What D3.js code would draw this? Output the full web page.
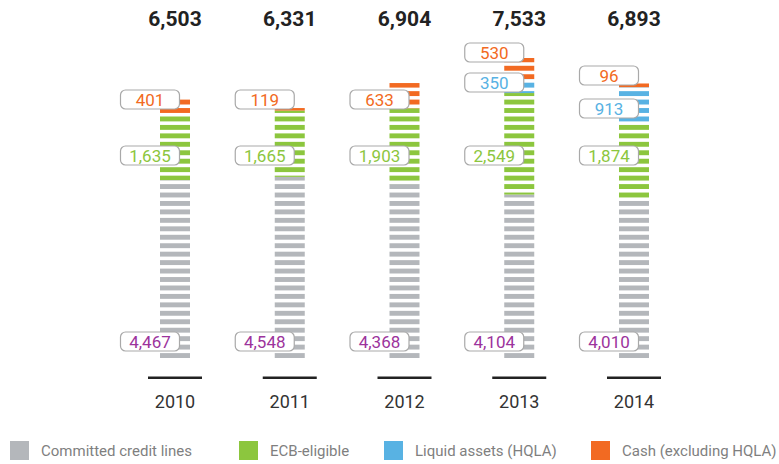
<!DOCTYPE html>
<html>
<head>
<meta charset="utf-8">
<script src="https://cdn.jsdelivr.net/npm/d3@7"></script>
<style>
  body { margin: 0; background: #fff; }
  svg { display: block; font-family: Roboto, "Noto Sans", sans-serif; }
</style>
</head>
<body>
<div id="container"></div>
<script>
// data
var years = ["2010", "2011", "2012", "2013", "2014"];
var totals = [6503, 6331, 6904, 7533, 6893];
var creditLines = [4467, 4548, 4368, 4104, 4010];
var ecbEligible = [1635, 1665, 1903, 2549, 1874];
var liquidAssets = [0, 0, 0, 350, 913];
var cash = [401, 119, 633, 530, 96];

var seriesNames = ["Committed credit lines", "ECB-eligible", "Liquid assets (HQLA)", "Cash (excluding HQLA)"];
var seriesKeys = ["credit", "ecb", "hqla", "cash"];
var colors = ["#b4b7bb", "#8cc63e", "#58b2e3", "#f26a22"];
var labelColors = ["#9c339c", "#8cc63e", "#58b2e3", "#f26a22"];

// where each value box sits (pixel centre), per series
var labelY = {
  credit: [341, 341, 341, 341, 341],
  ecb: [155, 155, 155, 155, 155],
  hqla: [null, null, null, 82, 108],
  cash: [99, 99, 99, 52, 75]
};

var svgWidth = 779;
var svgHeight = 464;
var base = 358;

var svg = d3.select("#container")
  .append("svg")
  .attr("width", svgWidth)
  .attr("height", svgHeight);

var table = years.map(function(y, i) {
  return {
    year: y,
    credit: creditLines[i],
    ecb: ecbEligible[i],
    hqla: liquidAssets[i],
    cash: cash[i]
  };
});

var stack = d3.stack().keys(seriesKeys);
var stacked = stack(table);

var x = d3.scalePoint()
  .domain(years)
  .range([175, 634]);

var y = d3.scaleLinear()
  .domain([0, d3.max(totals)])
  .range([base, 58]);

var barW = 30;

// horizontal stripe mask, anchored on the baseline
var mask = svg.append("defs").append("mask")
  .attr("id", "stripes")
  .attr("maskUnits", "userSpaceOnUse")
  .attr("x", 0).attr("y", 0)
  .attr("width", svgWidth).attr("height", svgHeight);

var period = 8.45, stripe = 4.9;
for (var k = 0; k < 45; k++) {
  mask.append("rect")
    .attr("x", 0)
    .attr("y", base - stripe - k * period)
    .attr("width", svgWidth)
    .attr("height", stripe)
    .attr("fill", "#fff");
}

var bars = svg.append("g").attr("mask", "url(#stripes)");

bars.selectAll("g")
  .data(stacked)
  .enter()
  .append("g")
  .attr("fill", function(d, i) { return colors[i]; })
  .selectAll("rect")
  .data(function(d) { return d; })
  .enter()
  .append("rect")
  .attr("x", function(d) { return x(d.data.year) - barW / 2; })
  .attr("y", function(d) { return y(d[1]); })
  .attr("width", barW)
  .attr("height", function(d) { return y(d[0]) - y(d[1]); });

// value boxes
var fmt = d3.format(",");
stacked.forEach(function(s, si) {
  s.forEach(function(d, i) {
    var v = d.data[s.key];
    if (!v) return;
    var cx = x(d.data.year);
    var cy = labelY[s.key][i];
    var g = svg.append("g").attr("transform", "translate(" + (cx - 55) + "," + (cy - 9.5) + ")");
    g.append("rect")
      .attr("x", 0.5).attr("y", 0.5)
      .attr("width", 59).attr("height", 19)
      .attr("rx", 5)
      .attr("fill", "#fff")
      .attr("stroke", "#a9a9a9")
      .attr("stroke-width", 1.2);
    g.append("text")
      .attr("x", 30)
      .attr("y", 16)
      .attr("text-anchor", "middle")
      .style("font-size", "17px")
      .attr("fill", labelColors[si])
      .text(fmt(v));
  });
});

// totals on top
svg.selectAll(".total")
  .data(years)
  .enter()
  .append("text")
  .attr("class", "total")
  .attr("x", function(d) { return x(d); })
  .attr("y", 26)
  .attr("text-anchor", "middle")
  .style("font-size", "21px")
  .style("font-weight", "bold")
  .attr("fill", "#222")
  .text(function(d, i) { return fmt(totals[i]); });

// baseline pieces and years
svg.selectAll(".baseline")
  .data(years)
  .enter()
  .append("rect")
  .attr("x", function(d) { return x(d) - 27; })
  .attr("y", 376.5)
  .attr("width", 54)
  .attr("height", 2.5)
  .attr("fill", "#222");

svg.selectAll(".year")
  .data(years)
  .enter()
  .append("text")
  .attr("x", function(d) { return x(d); })
  .attr("y", 408)
  .attr("text-anchor", "middle")
  .style("font-size", "18px")
  .attr("fill", "#333")
  .text(function(d) { return d; });

// legend
var legendX = [10, 239, 384, 591];
var legend = svg.selectAll(".legend")
  .data(seriesNames)
  .enter()
  .append("g")
  .attr("transform", function(d, i) { return "translate(" + legendX[i] + ",441)"; });

legend.append("rect")
  .attr("width", 19)
  .attr("height", 19)
  .attr("fill", function(d, i) { return colors[i]; });

legend.append("text")
  .attr("x", 31)
  .attr("y", 15)
  .style("font-size", "15px")
  .attr("fill", "#7f7f7f")
  .text(function(d) { return d; });
</script>
</body>
</html>
